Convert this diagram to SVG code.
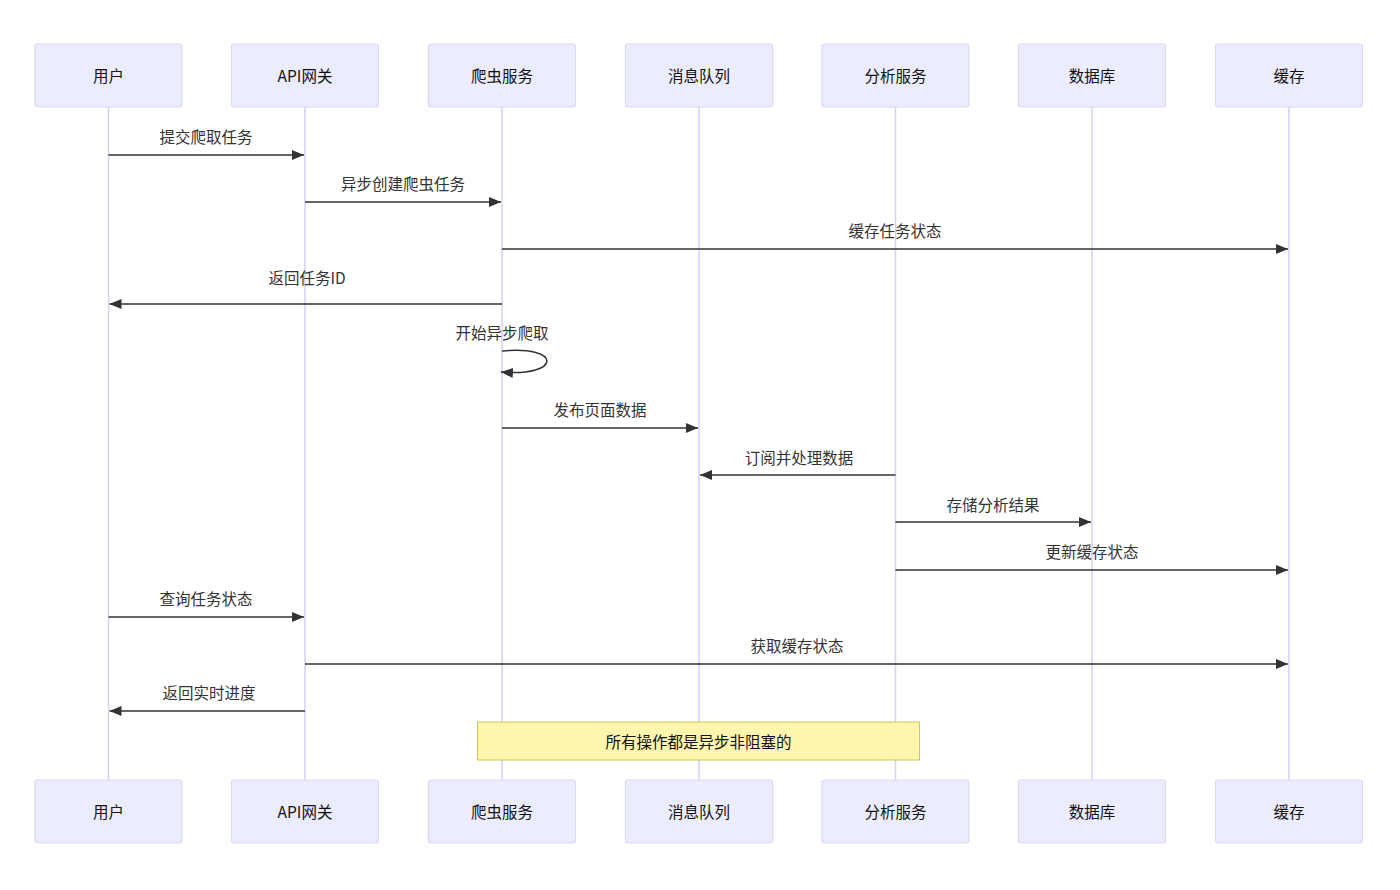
<svg xmlns="http://www.w3.org/2000/svg" width="1400" height="890" viewBox="0 0 1400 890">
<style>
.actor{fill:#ECECFF;stroke:#ddd6f5;stroke-width:1.2}
.atext{font-family:"Noto Sans CJK SC","Liberation Sans",sans-serif;font-size:15.5px;fill:#111;text-anchor:middle;dominant-baseline:central}
.life{stroke:#d6cff3;stroke-width:1.5}
.msg{stroke:#333;stroke-width:1.5;fill:none}
.mtext{font-family:"Noto Sans CJK SC","Liberation Sans",sans-serif;font-size:15.5px;fill:#333;text-anchor:middle;dominant-baseline:central}
.note{fill:#fff5ad;stroke:#c8c85a;stroke-width:1}
</style>
<defs>
<marker id="ah" viewBox="0 0 12 10" refX="12" refY="5" markerWidth="12" markerHeight="10" markerUnits="userSpaceOnUse" orient="auto">
<path d="M0,0 L12,5 L0,10 z" fill="#333"/>
</marker>
</defs>
<rect width="1400" height="890" fill="#fff"/>
<g id="lifelines">
<line class="life" x1="108.5" y1="107" x2="108.5" y2="780"/>
<line class="life" x1="305" y1="107" x2="305" y2="780"/>
<line class="life" x1="502" y1="107" x2="502" y2="780"/>
<line class="life" x1="699" y1="107" x2="699" y2="780"/>
<line class="life" x1="895.5" y1="107" x2="895.5" y2="780"/>
<line class="life" x1="1092" y1="107" x2="1092" y2="780"/>
<line class="life" x1="1289" y1="107" x2="1289" y2="780"/>
</g>
<g id="actor-user"><rect class="actor" x="35" y="44" width="147" height="63" rx="3"/><text class="atext" x="108.5" y="75">用户</text>
<rect class="actor" x="35" y="780" width="147" height="63" rx="3"/><text class="atext" x="108.5" y="811">用户</text></g>
<g id="actor-gateway"><rect class="actor" x="231.5" y="44" width="147" height="63" rx="3"/><text class="atext" x="305" y="75">API网关</text>
<rect class="actor" x="231.5" y="780" width="147" height="63" rx="3"/><text class="atext" x="305" y="811">API网关</text></g>
<g id="actor-crawler"><rect class="actor" x="428.5" y="44" width="147" height="63" rx="3"/><text class="atext" x="502" y="75">爬虫服务</text>
<rect class="actor" x="428.5" y="780" width="147" height="63" rx="3"/><text class="atext" x="502" y="811">爬虫服务</text></g>
<g id="actor-mq"><rect class="actor" x="625.5" y="44" width="147" height="63" rx="3"/><text class="atext" x="699" y="75">消息队列</text>
<rect class="actor" x="625.5" y="780" width="147" height="63" rx="3"/><text class="atext" x="699" y="811">消息队列</text></g>
<g id="actor-analysis"><rect class="actor" x="822" y="44" width="147" height="63" rx="3"/><text class="atext" x="895.5" y="75">分析服务</text>
<rect class="actor" x="822" y="780" width="147" height="63" rx="3"/><text class="atext" x="895.5" y="811">分析服务</text></g>
<g id="actor-db"><rect class="actor" x="1018.5" y="44" width="147" height="63" rx="3"/><text class="atext" x="1092" y="75">数据库</text>
<rect class="actor" x="1018.5" y="780" width="147" height="63" rx="3"/><text class="atext" x="1092" y="811">数据库</text></g>
<g id="actor-cache"><rect class="actor" x="1215.5" y="44" width="147" height="63" rx="3"/><text class="atext" x="1289" y="75">缓存</text>
<rect class="actor" x="1215.5" y="780" width="147" height="63" rx="3"/><text class="atext" x="1289" y="811">缓存</text></g>
<g id="connectors">
<line class="msg" x1="108.5" y1="155" x2="304" y2="155" marker-end="url(#ah)"/>
<text class="mtext" x="206" y="135.5">提交爬取任务</text>
<line class="msg" x1="305" y1="202" x2="501" y2="202" marker-end="url(#ah)"/>
<text class="mtext" x="403" y="182.5">异步创建爬虫任务</text>
<line class="msg" x1="502" y1="249" x2="1288" y2="249" marker-end="url(#ah)"/>
<text class="mtext" x="895" y="229.5">缓存任务状态</text>
<line class="msg" x1="502" y1="304" x2="109.5" y2="304" marker-end="url(#ah)"/>
<text class="mtext" x="307" y="276.5">返回任务ID</text>
<path class="msg" d="M502,351 C562,345 562,377 501,372" marker-end="url(#ah)"/>
<text class="mtext" x="502" y="331.5">开始异步爬取</text>
<line class="msg" x1="502" y1="428" x2="698" y2="428" marker-end="url(#ah)"/>
<text class="mtext" x="600" y="408.5">发布页面数据</text>
<line class="msg" x1="895.5" y1="475" x2="700" y2="475" marker-end="url(#ah)"/>
<text class="mtext" x="799" y="456.5">订阅并处理数据</text>
<line class="msg" x1="895.5" y1="522" x2="1091" y2="522" marker-end="url(#ah)"/>
<text class="mtext" x="993" y="503.5">存储分析结果</text>
<line class="msg" x1="895.5" y1="570" x2="1288" y2="570" marker-end="url(#ah)"/>
<text class="mtext" x="1092" y="550.5">更新缓存状态</text>
<line class="msg" x1="108.5" y1="617" x2="304" y2="617" marker-end="url(#ah)"/>
<text class="mtext" x="206" y="597.5">查询任务状态</text>
<line class="msg" x1="305" y1="664" x2="1288" y2="664" marker-end="url(#ah)"/>
<text class="mtext" x="797" y="644.5">获取缓存状态</text>
<line class="msg" x1="305" y1="711" x2="109.5" y2="711" marker-end="url(#ah)"/>
<text class="mtext" x="209" y="691.5">返回实时进度</text>
</g>
<g id="note">
<rect class="note" x="477.5" y="722" width="442" height="38"/>
<text class="atext" x="698.5" y="740.5">所有操作都是异步非阻塞的</text>
</g>
</svg>
